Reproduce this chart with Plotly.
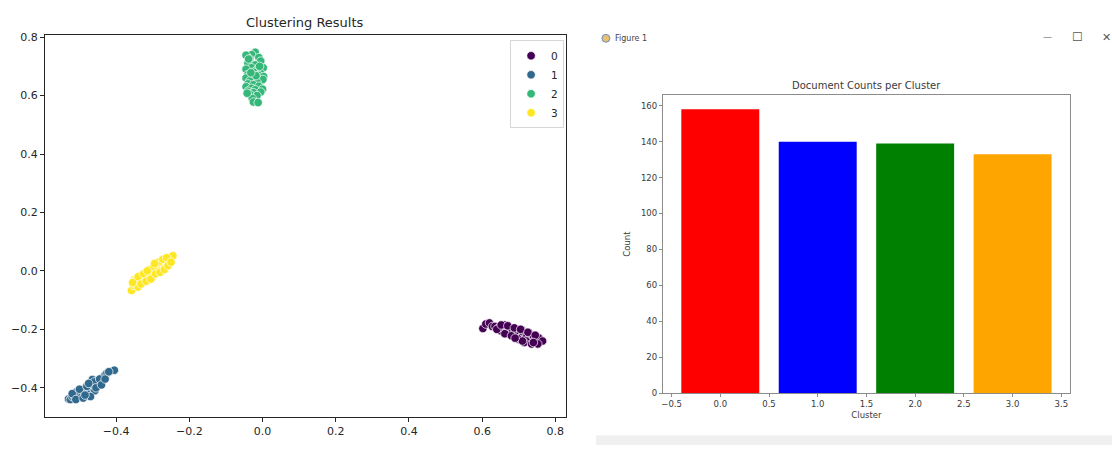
import plotly.graph_objects as go

# ---------------- data ----------------
cluster_labels = ["0", "1", "2", "3"]
cluster_colors = ["#440154", "#31688e", "#35b779", "#fde725"]

c0_x = [0.602, 0.61, 0.62, 0.628, 0.635, 0.645, 0.65, 0.655, 0.66, 0.665, 0.668, 0.672, 0.675, 0.678,
        0.682, 0.685, 0.69, 0.692, 0.695, 0.7, 0.703, 0.706, 0.71, 0.712, 0.715, 0.72, 0.722, 0.725,
        0.73, 0.732, 0.735, 0.74, 0.745, 0.748, 0.755, 0.765, 0.66, 0.7, 0.72,
        0.64, 0.652, 0.662, 0.67, 0.68, 0.688, 0.698, 0.705, 0.715, 0.725, 0.735, 0.745, 0.752, 0.71, 0.69, 0.74]
c0_y = [-0.197, -0.182, -0.178, -0.19, -0.19, -0.195, -0.205, -0.19, -0.2, -0.21, -0.195, -0.205, -0.215, -0.198,
        -0.21, -0.22, -0.205, -0.215, -0.225, -0.21, -0.22, -0.228, -0.205, -0.218, -0.232, -0.212, -0.225, -0.238,
        -0.215, -0.23, -0.24, -0.222, -0.235, -0.245, -0.23, -0.24, -0.185, -0.235, -0.24,
        -0.2, -0.185, -0.215, -0.188, -0.222, -0.195, -0.232, -0.2, -0.245, -0.21, -0.25, -0.22, -0.25, -0.24, -0.23, -0.245]

c1_x = [-0.53, -0.525, -0.52, -0.515, -0.512, -0.508, -0.505, -0.5, -0.5, -0.495, -0.492, -0.49, -0.488,
        -0.485, -0.482, -0.48, -0.478, -0.475, -0.472, -0.47, -0.468, -0.465, -0.462, -0.46, -0.458, -0.455,
        -0.452, -0.45, -0.445, -0.44, -0.435, -0.43, -0.425, -0.405, -0.51, -0.495, -0.465,
        -0.52, -0.51, -0.5, -0.49, -0.48, -0.47, -0.46, -0.455, -0.445, -0.44, -0.475, -0.485, -0.43, -0.42]
c1_y = [-0.438, -0.44, -0.43, -0.425, -0.435, -0.42, -0.43, -0.415, -0.425, -0.41, -0.42, -0.405, -0.428,
        -0.415, -0.4, -0.41, -0.42, -0.395, -0.405, -0.415, -0.39, -0.4, -0.385, -0.395, -0.41, -0.38,
        -0.39, -0.375, -0.385, -0.37, -0.365, -0.355, -0.35, -0.34, -0.415, -0.432, -0.372,
        -0.42, -0.44, -0.405, -0.435, -0.395, -0.43, -0.38, -0.4, -0.37, -0.39, -0.385, -0.425, -0.37, -0.345]

c2_x = [-0.02, -0.03, -0.045, -0.01, -0.035, -0.005, -0.04, -0.02, 0.002, -0.03, -0.045, -0.015, -0.025,
        -0.005, -0.04, -0.01, 0.003, -0.03, -0.045, -0.02, -0.035, -0.005, 0.001, -0.015, -0.04, -0.025,
        -0.01, -0.045, -0.03, 0.0, -0.02, -0.04, -0.005, -0.025, -0.035, -0.015, -0.028, -0.025, -0.012,
        -0.042, -0.018, -0.032, -0.008, -0.038]
c2_y = [0.748, 0.74, 0.738, 0.73, 0.725, 0.718, 0.71, 0.705, 0.695, 0.695, 0.69, 0.688, 0.68,
        0.676, 0.672, 0.668, 0.665, 0.663, 0.66, 0.657, 0.65, 0.648, 0.655, 0.645, 0.64, 0.637,
        0.632, 0.63, 0.625, 0.622, 0.62, 0.615, 0.612, 0.61, 0.605, 0.6, 0.59, 0.578, 0.576,
        0.608, 0.668, 0.678, 0.7, 0.725]

c3_x = [-0.358, -0.352, -0.348, -0.35, -0.342, -0.338, -0.335, -0.33, -0.327, -0.322, -0.32, -0.318,
        -0.313, -0.31, -0.305, -0.302, -0.298, -0.295, -0.29, -0.288, -0.285, -0.282, -0.278, -0.275,
        -0.272, -0.268, -0.265, -0.262, -0.258, -0.255, -0.25, -0.245, -0.34, -0.325, -0.3, -0.28, -0.26,
        -0.345, -0.34, -0.332, -0.325, -0.318, -0.31, -0.305, -0.298, -0.292, -0.285, -0.28, -0.272,
        -0.268, -0.262, -0.258, -0.25, -0.355, -0.315, -0.295]
c3_y = [-0.067, -0.05, -0.045, -0.03, -0.04, -0.025, -0.035, -0.02, -0.03, -0.015, -0.025, -0.008,
        -0.018, -0.005, -0.012, 0.0, 0.008, -0.005, 0.012, 0.002, 0.02, 0.008, 0.025, 0.015,
        0.03, 0.02, 0.035, 0.027, 0.04, 0.032, 0.045, 0.052, -0.055, -0.04, -0.02, 0.0, 0.02,
        -0.03, -0.02, -0.045, -0.01, -0.035, 0.005, -0.028, 0.015, -0.01, 0.03, -0.005, 0.04,
        0.005, 0.045, 0.018, 0.03, -0.04, 0.0, 0.025]

scatter_xs = [c0_x, c1_x, c2_x, c3_x]
scatter_ys = [c0_y, c1_y, c2_y, c3_y]

bar_clusters = [0, 1, 2, 3]
bar_counts = [158, 140, 139, 133]
bar_colors = ["red", "blue", "green", "orange"]

# ---------------- figure ----------------
fig = go.Figure()

for lab, col, xs, ys in zip(cluster_labels, cluster_colors, scatter_xs, scatter_ys):
    fig.add_trace(go.Scatter(
        x=xs, y=ys, mode="markers", name=lab,
        marker=dict(color=col, size=8.5, line=dict(color="white", width=0.7)),
        xaxis="x", yaxis="y",
    ))

fig.add_trace(go.Bar(
    x=bar_clusters, y=bar_counts, width=0.8,
    marker=dict(color=bar_colors, line=dict(width=0)),
    xaxis="x2", yaxis="y2", showlegend=False,
))

W, H = 1112, 450
def px(x): return x / W
def py(y): return 1 - y / H

tickfont_l = dict(family="DejaVu Sans", size=11, color="#262626")
tickfont_r = dict(family="DejaVu Sans", size=8.5, color="#3a3a3a")

fig.update_layout(
    width=W, height=H,
    margin=dict(l=0, r=0, t=0, b=0),
    paper_bgcolor="white", plot_bgcolor="white",
    font=dict(family="DejaVu Sans"),
    showlegend=True,
    legend=dict(
        x=px(509), y=py(37), xanchor="left", yanchor="top",
        bgcolor="white", bordercolor="#d6d6d6", borderwidth=1,
        font=dict(family="DejaVu Sans", size=10.5, color="#262626"),
        itemwidth=30, tracegroupgap=0,
    ),
    xaxis=dict(
        domain=[px(43), px(565)], range=[-0.5945, 0.829], anchor="y",
        dtick=0.2, tick0=0, tickformat=".1f", showgrid=False, zeroline=False,
        showline=True, linecolor="#262626", linewidth=1, mirror=True,
        ticks="outside", ticklen=4, tickcolor="#262626", tickfont=tickfont_l,
    ),
    yaxis=dict(
        domain=[py(421), py(32)], range=[-0.4985, 0.806], anchor="x",
        dtick=0.2, tick0=0, tickformat=".1f", showgrid=False, zeroline=False,
        showline=True, linecolor="#262626", linewidth=1, mirror=True,
        ticks="outside", ticklen=4, tickcolor="#262626", tickfont=tickfont_l,
    ),
    xaxis2=dict(
        domain=[px(662), px(1070)], range=[-0.59, 3.59], anchor="y2",
        dtick=0.5, tick0=0, tickformat=".1f", showgrid=False, zeroline=False,
        showline=True, linecolor="#8c8c8c", linewidth=1, mirror=True,
        ticks="outside", ticklen=3, tickcolor="#8c8c8c", tickfont=tickfont_r,
        title=dict(text="Cluster", font=dict(family="DejaVu Sans", size=8.5, color="#3a3a3a"), standoff=3),
    ),
    yaxis2=dict(
        domain=[py(397), py(93)], range=[0, 165.9], anchor="x2",
        dtick=20, tick0=0, showgrid=False, zeroline=False,
        showline=True, linecolor="#8c8c8c", linewidth=1, mirror=True,
        ticks="outside", ticklen=3, tickcolor="#8c8c8c", tickfont=tickfont_r,
        title=dict(text="Count", font=dict(family="DejaVu Sans", size=8.5, color="#3a3a3a"), standoff=8),
    ),
    annotations=[
        dict(text="Clustering Results", x=px(304), y=py(19), xref="paper", yref="paper",
             showarrow=False, xanchor="center", yanchor="middle",
             font=dict(family="DejaVu Sans", size=13, color="#262626")),
        dict(text="Document Counts per Cluster", x=px(866), y=py(83), xref="paper", yref="paper",
             showarrow=False, xanchor="center", yanchor="middle",
             font=dict(family="DejaVu Sans", size=10, color="#3a3a3a")),
        dict(text="Figure 1", x=px(612), y=py(35), xref="paper", yref="paper",
             showarrow=False, xanchor="left", yanchor="middle",
             font=dict(family="DejaVu Sans", size=8, color="#444")),
        dict(text="—", x=px(1047), y=py(34), xref="paper", yref="paper",
             showarrow=False, xanchor="center", yanchor="middle",
             font=dict(family="DejaVu Sans", size=9, color="#555")),
        dict(text="☐", x=px(1077), y=py(34), xref="paper", yref="paper",
             showarrow=False, xanchor="center", yanchor="middle",
             font=dict(family="DejaVu Sans", size=12, color="#555")),
        dict(text="✕", x=px(1106), y=py(34), xref="paper", yref="paper",
             showarrow=False, xanchor="center", yanchor="middle",
             font=dict(family="DejaVu Sans", size=11, color="#555")),
    ],
    shapes=[
        dict(type="rect", xref="paper", yref="paper", x0=px(595), x1=1, y0=0, y1=py(440),
             fillcolor="#f0f0f0", line=dict(width=0), layer="below"),
        dict(type="circle", xref="paper", yref="paper", x0=px(601), x1=px(609), y0=py(39), y1=py(31),
             fillcolor="#e8c070", line=dict(color="#6a8fc0", width=1)),
    ],
)

fig.write_html("out.html")
